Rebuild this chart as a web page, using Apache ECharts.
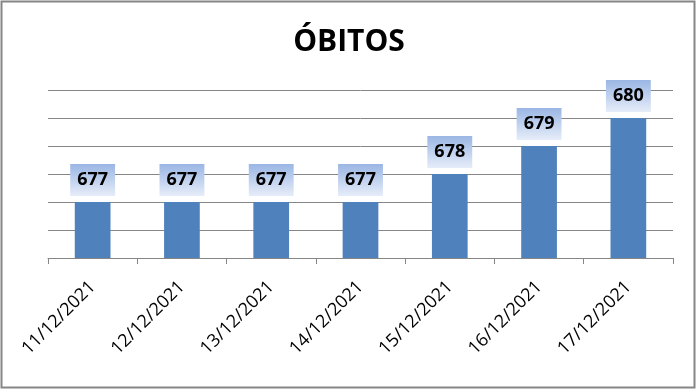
<!DOCTYPE html>
<html><head><meta charset="utf-8">
<script src="https://cdn.jsdelivr.net/npm/echarts@6/dist/echarts.min.js"></script>
<style>html,body{margin:0;padding:0;background:#fff}#c{width:698px;height:391px}</style>
</head><body><div id="c"></div>
<script>
const titleText = 'ÓBITOS';
const categories = ['11/12/2021','12/12/2021','13/12/2021','14/12/2021','15/12/2021','16/12/2021','17/12/2021'];
const obitos = [677, 677, 677, 677, 678, 679, 680];
const yMin = 675, yMax = 681, yStep = 1;

const chart = echarts.init(document.getElementById('c'), null, {renderer:'canvas'});
chart.setOption({
  backgroundColor: '#fff',
  animation: false,
  title: {
    text: titleText, left: 'center', top: 22,
    textStyle: {fontFamily: 'Open Sans', fontWeight: 'bold', fontSize: 30, color: '#000'}
  },
  graphic: [{
    type: 'rect', shape: {x: 1.5, y: 1.5, width: 693, height: 386},
    style: {fill: null, stroke: '#868686', lineWidth: 2}, silent: true
  }],
  grid: {left: 48, right: 25, top: 90, bottom: 133, containLabel: false},
  xAxis: {
    type: 'category', data: categories,
    axisLine: {lineStyle: {color: '#868686', width: 1}},
    axisTick: {show: true, length: 6, lineStyle: {color: '#868686'}},
    axisLabel: {rotate: 45, margin: 26, fontFamily: 'Open Sans', fontSize: 18, color: '#000'}
  },
  yAxis: {
    type: 'value', min: yMin, max: yMax, interval: yStep,
    axisLine: {show: false}, axisTick: {show: false}, axisLabel: {show: false},
    splitLine: {lineStyle: {color: '#868686', width: 1}}
  },
  series: [{
    type: 'bar', data: obitos, barWidth: '40%',
    itemStyle: {color: '#4f81bd'},
    label: {
      show: true, position: 'top', distance: 6,
      fontFamily: 'Open Sans', fontWeight: 'bold', fontSize: 18, color: '#000',
      lineHeight: 18, padding: [7, 7, 7, 7],
      backgroundColor: new echarts.graphic.LinearGradient(0, 0, 0, 1, [
        {offset: 0, color: '#9ab6e4'}, {offset: 1, color: '#e6edf9'}
      ])
    }
  }]
});
</script></body></html>
